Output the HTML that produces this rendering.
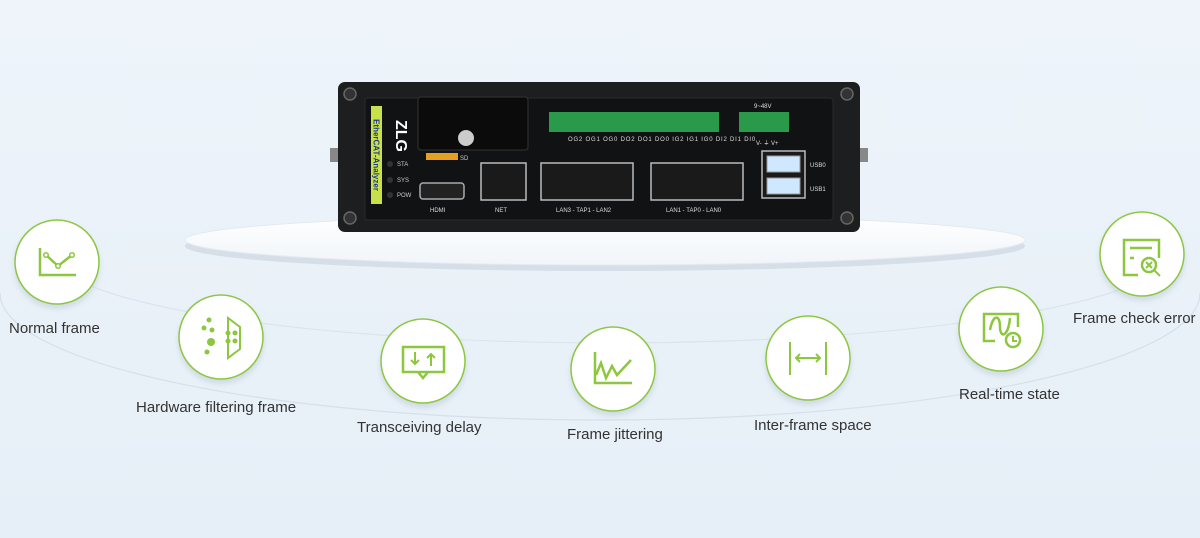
<!DOCTYPE html>
<html><head><meta charset="utf-8"><style>
html,body{margin:0;padding:0;width:1200px;height:538px;overflow:hidden;background:#eaf2f9;}
svg{display:block}
text{font-family:"Liberation Sans",sans-serif;}
</style></head><body>
<svg width="1200" height="538" viewBox="0 0 1200 538" xmlns="http://www.w3.org/2000/svg">
<defs>
<linearGradient id="bg" x1="0" y1="0" x2="0" y2="1"><stop offset="0" stop-color="#eef4fa"/><stop offset="1" stop-color="#e6eff7"/></linearGradient>
<linearGradient id="plat" x1="0" y1="0" x2="0" y2="1"><stop offset="0" stop-color="#ffffff"/><stop offset="1" stop-color="#f1f5f9"/></linearGradient>
<filter id="sh" x="-30%" y="-30%" width="160%" height="170%"><feDropShadow dx="0" dy="4" stdDeviation="3" flood-color="#9fb0c0" flood-opacity="0.35"/></filter>
</defs>
<rect width="1200" height="538" fill="url(#bg)"/>
<!-- orbits (lower halves) -->
<path d="M0 293 A600 127 0 0 0 1200 293" fill="none" stroke="#d6e0ea" stroke-width="1.2"/>
<path d="M50 252 A560 91 0 0 0 1170 252" fill="none" stroke="#dbe4ed" stroke-width="1.2"/>
<!-- platform -->
<ellipse cx="605" cy="246" rx="420" ry="25" fill="#d6dee7"/>
<ellipse cx="605" cy="240" rx="420" ry="25" fill="url(#plat)" stroke="#e4eaf0"/>
<!-- device -->
<g>
<rect x="338" y="82" width="522" height="150" rx="7" fill="#1d1e20"/>
<rect x="330" y="148" width="8" height="14" fill="#888"/><rect x="860" y="148" width="8" height="14" fill="#888"/>
<rect x="365" y="98" width="468" height="122" rx="3" fill="#111214" stroke="#2a2b2e"/>
<g fill="#333" stroke="#666" stroke-width="1.5"><circle cx="350" cy="94" r="6"/><circle cx="847" cy="94" r="6"/><circle cx="350" cy="218" r="6"/><circle cx="847" cy="218" r="6"/></g>
<rect x="371" y="106" width="11" height="98" fill="#c8e04a"/>
<text x="376.5" y="155" font-size="8" font-weight="bold" fill="#1b3a8a" transform="rotate(90 376.5 155)" text-anchor="middle" dy="3">EtherCAT-Analyzer</text>
<text x="396" y="120" font-size="16" font-weight="bold" fill="#fff" transform="rotate(90 396 120)">ZLG</text>
<g font-size="6" fill="#ccc"><text x="397" y="166">STA</text><text x="397" y="182">SYS</text><text x="397" y="197">POW</text></g>
<g fill="#333"><circle cx="390" cy="164" r="3"/><circle cx="390" cy="180" r="3"/><circle cx="390" cy="195" r="3"/></g>
<rect x="418" y="97" width="110" height="53" rx="3" fill="#0b0b0c" stroke="#333"/>
<circle cx="466" cy="138" r="8" fill="#ccc"/>
<rect x="426" y="153" width="32" height="7" fill="#e6a021"/><text x="460" y="160" font-size="6" fill="#ccc">SD</text>
<rect x="420" y="183" width="44" height="16" rx="3" fill="#222" stroke="#aaa" stroke-width="1.5"/>
<g fill="#1a1a1a" stroke="#bbb" stroke-width="1.5">
<rect x="481" y="163" width="45" height="37"/><rect x="541" y="163" width="92" height="37"/><rect x="651" y="163" width="92" height="37"/>
<rect x="762" y="151" width="43" height="47"/>
</g>
<g fill="#cfe8ff" stroke="#999"><rect x="767" y="156" width="33" height="16"/><rect x="767" y="178" width="33" height="16"/></g>
<g fill="#2a9a4a"><rect x="549" y="112" width="170" height="20"/><rect x="739" y="112" width="50" height="20"/></g>
<g font-size="6" fill="#ddd">
<text x="430" y="212">HDMI</text><text x="495" y="212">NET</text><text x="556" y="212">LAN3 - TAP1 - LAN2</text><text x="666" y="212">LAN1 - TAP0 - LAN0</text>
<text x="754" y="108">9~48V</text><text x="756" y="145">V-  ⏚  V+</text><text x="810" y="167">USB0</text><text x="810" y="191">USB1</text>
<text x="568" y="141" letter-spacing="0.8">OG2 OG1 OG0 DO2 DO1 DO0 IG2 IG1 IG0 DI2 DI1 DI0</text>
</g>
</g>
<!-- nodes -->
<g fill="#fff" stroke="#8dc63f" stroke-width="1.5" filter="url(#sh)">
<circle cx="57" cy="262" r="42"/><circle cx="221" cy="337" r="42"/><circle cx="423" cy="361" r="42"/>
<circle cx="613" cy="369" r="42"/><circle cx="808" cy="358" r="42"/><circle cx="1001" cy="329" r="42"/><circle cx="1142" cy="254" r="42"/>
</g>
<g fill="none" stroke="#8dc63f" stroke-width="2.5">
<path d="M40 248 V275 H76"/><path d="M46 255 L58 266 L72 255"/>
<path d="M228 318 V358 L240 349 V327 Z" stroke-width="2"/>
<rect x="403" y="347" width="41" height="25"/><path d="M418 372 L423 378 L428 372"/><path d="M415 352 V364 M411 360 L415 364 L419 360 M431 366 V354 M427 358 L431 354 L435 358" stroke-width="2"/>
<path d="M595 352 V383 H632"/><path d="M596 375 L601 363 L606 378 L612 366 L617 375 L631 360"/>
<path d="M790 342 V375 M826 342 V375 M796 358 H820 M800 354 L796 358 L800 362 M816 354 L820 358 L816 362" stroke-width="2"/>
<path d="M995 341 H984 V314 H1018 V327 M990 330 C993 314 1000 314 1000 327 C1000 338 1008 338 1010 318"/><circle cx="1013" cy="340" r="7"/><path d="M1013 336 V341 H1017" stroke-width="2"/>
<path d="M1138 275 H1124 V240 H1159 V258 M1130 248 H1152 M1130 258 H1134"/><circle cx="1149" cy="265" r="7"/><path d="M1146 262 L1152 268 M1152 262 L1146 268 M1154 270 L1160 276" stroke-width="2"/>
</g>
<g fill="#8dc63f"><circle cx="209" cy="320" r="2.5"/><circle cx="204" cy="328" r="2.5"/><circle cx="212" cy="330" r="2.5"/><circle cx="211" cy="342" r="4"/><circle cx="207" cy="352" r="2.5"/><circle cx="228" cy="333" r="2.5"/><circle cx="235" cy="333" r="2.5"/><circle cx="228" cy="341" r="2.5"/><circle cx="235" cy="341" r="2.5"/>
<circle cx="46" cy="255" r="3"/><circle cx="58" cy="266" r="3"/><circle cx="72" cy="255" r="3"/></g>
<g fill="#fff"><circle cx="46" cy="255" r="1.5"/><circle cx="58" cy="266" r="1.5"/><circle cx="72" cy="255" r="1.5"/></g>
<g font-size="15" fill="#333">
<text x="9" y="333">Normal frame</text>
<text x="136" y="412">Hardware filtering frame</text>
<text x="357" y="432">Transceiving delay</text>
<text x="567" y="439">Frame jittering</text>
<text x="754" y="430">Inter-frame space</text>
<text x="959" y="399">Real-time state</text>
<text x="1073" y="323">Frame check error</text>
</g>
</svg>
</body></html>
